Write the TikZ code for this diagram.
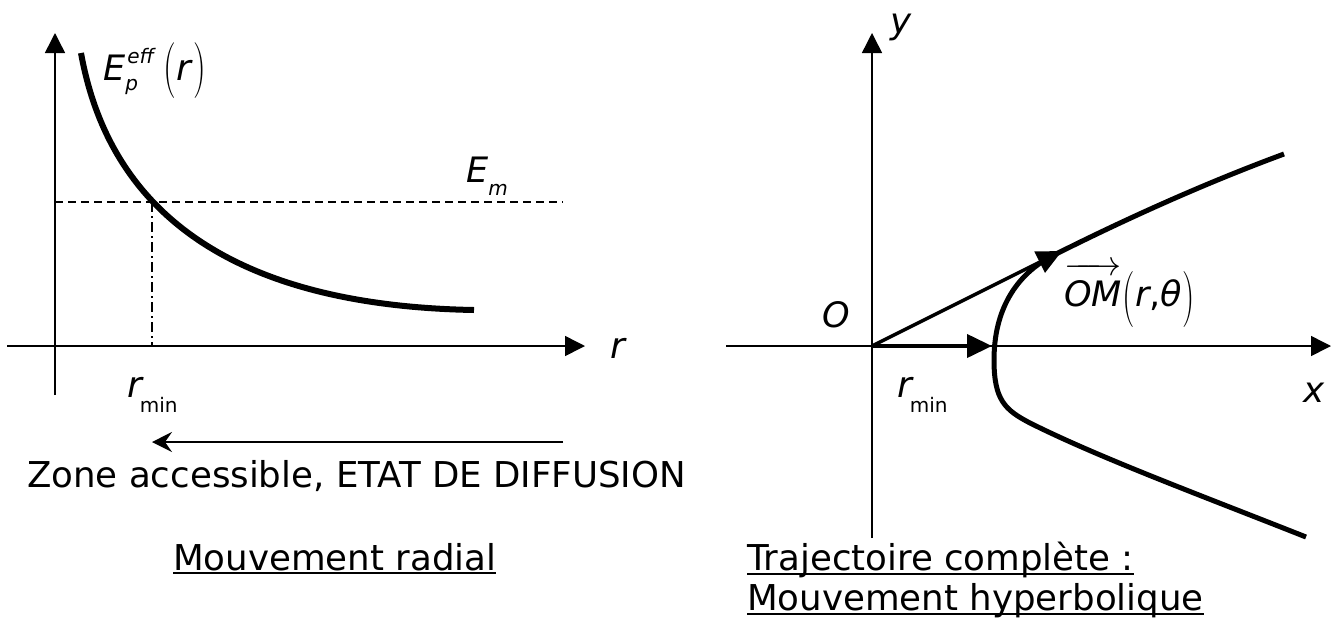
\RequirePackage{fix-cm}
\documentclass[tikz,border=0pt]{standalone}
\usepackage{graphicx}
\usepackage{fontspec}
\setmainfont{DejaVu Sans}
\usetikzlibrary{arrows.meta}
\newcommand\lblfont{\fontsize{35.6}{40}\selectfont}
\newcommand\mathfnt{\fontsize{35}{40}\selectfont}
\newcommand\rfnt{\fontsize{36}{40}\selectfont}
\newcommand\subfont{\fontsize{20}{22}\selectfont}
% tall thin parenthesis: #1 vertical scale, #2 lowering, #3 character
\newcommand\tallpar[3]{\raisebox{-#2}{\scalebox{1}[#1]{$#3$}}}
\newsavebox\ulbox
\newcommand\myuline[2]{\sbox\ulbox{#2}\rlap{\rule[-#1]{\wd\ulbox}{2pt}}\usebox\ulbox}
\begin{document}
\begin{tikzpicture}[x=1pt,y=-1pt,
  lbl/.style={inner sep=0pt, anchor=base west, font=\lblfont},
  axis/.style={line width=1.5pt, -{Triangle[length=20pt,width=20pt]}},
  vec/.style={line width=3.5pt, -{Triangle[length=25pt,width=23pt]}},
  curvestyle/.style={line width=5pt, line cap=butt},
  dashline/.style={line width=1.4pt, dash pattern=on 8pt off 5pt},
  dashdotline/.style={line width=1.2pt, dash pattern=on 10pt off 4pt on 2pt off 4pt}]
\useasboundingbox (0,0) rectangle (1335,619);
% ---------- left panel ----------
\coordinate (LyB) at (55,395);
\coordinate (LyT) at (55,33);
\coordinate (LxL) at (7,346);
\coordinate (LxR) at (585,346);
\draw[axis] (LyB) -- (LyT);
\draw[axis] (LxL) -- (LxR);
\coordinate (Ca) at (81,53);
\coordinate (Cb) at (474,310);
\draw[line width=6pt] (Ca) .. controls (112,225) and (250,306) .. (Cb);
\coordinate (Da) at (55,202);
\coordinate (Db) at (563,202);
\draw[dashline] (Da) -- (Db);
\coordinate (Va) at (152,202);
\coordinate (Vb) at (152,346);
\draw[dashdotline] (Va) -- (Vb);
\node[lbl] (Ep) at (103,80) {\mathfnt\textit{E}\rlap{\raisebox{-10pt}{\subfont\textit{p}}}\hspace{2pt}\raisebox{17pt}{\subfont\textit{eff}}\hspace{8pt}\rfnt\tallpar{1.55}{4pt}{(}\textit{r}\tallpar{1.55}{4pt}{)}};
\node[lbl] (Em) at (466,182) {\mathfnt\textit{E}\raisebox{-13pt}{\subfont\textit{m}}};
\node[lbl] (rlab) at (610,358) {\rfnt\textit{r}};
\node[lbl] (rminL) at (127,397) {\rfnt\textit{r}\hspace{-4pt}\raisebox{-15pt}{\subfont min}};
\coordinate (Za) at (563,442);
\coordinate (Zb) at (152,442);
\draw[line width=1.5pt, -{Stealth[length=20pt,width=20pt,inset=7pt]}] (Za) -- (Zb);
\node[lbl] (zone) at (27,487) {Zone accessible, ETAT DE DIFFUSION};
\node[lbl] (radial) at (173,570) {\myuline{4pt}{Mouvement radial}};
% ---------- right panel ----------
\coordinate (O) at (872,346);
\coordinate (RyB) at (872,538);
\coordinate (RyT) at (872,33);
\coordinate (RxL) at (726,346);
\coordinate (RxR) at (1331,346);
\draw[axis] (RyB) -- (RyT);
\draw[axis] (RxL) -- (RxR);
\coordinate (Hup) at (1284,154);
\coordinate (Hm) at (1058,253);
\coordinate (Hv) at (994,360);
\coordinate (Hl) at (1030,423);
\coordinate (Hdn) at (1306,537);
\draw[curvestyle] (Hup) .. controls (1200,185) and (1120,222) .. (Hm)
  .. controls (1025,268) and (994,300) .. (Hv)
  .. controls (994,400) and (1005,410) .. (Hl)
  .. controls (1100,458) and (1200,495) .. (Hdn);
\coordinate (M) at (1062,251);
\coordinate (P) at (992,346);
\draw[vec] (O) -- (M);
\draw[vec, line width=4pt] (O) -- (P);
\node[lbl] (ylab) at (890,33) {\textit{y}};
\node[lbl] (xlab) at (1303,402) {\textit{x}};
\node[lbl] (Olab) at (822,327) {\mathfnt\textit{O}};
\node[lbl] (rminR) at (897,397) {\rfnt\textit{r}\hspace{-4pt}\raisebox{-15pt}{\subfont min}};
\node[lbl] (OM) at (1064,306) {\mathfnt$\overrightarrow{\mbox{\itshape OM}\rule{0pt}{32pt}}$\hspace{1pt}\tallpar{1.6}{7pt}{(}\textit{r},\textit{θ}\tallpar{1.6}{7pt}{)}};
\node[lbl] (traj) at (747,570) {\myuline{5pt}{Trajectoire complète :}};
\node[lbl] (hyp) at (747,610) {\myuline{5pt}{Mouvement hyperbolique}};
\end{tikzpicture}
\end{document}
